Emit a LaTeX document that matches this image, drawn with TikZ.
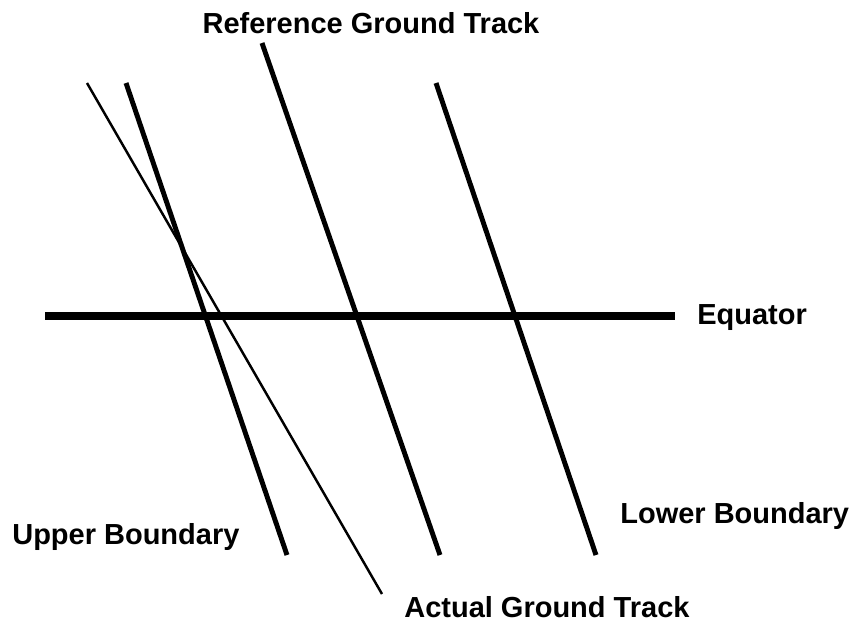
\documentclass[tikz,border=0pt]{standalone}
\usepackage{fontspec}
\setmainfont{Liberation Sans}
\usetikzlibrary{positioning}

\begin{document}
\begin{tikzpicture}[
    x=0.02cm, y=-0.02cm,
    lbl/.style={font=\bfseries\fontsize{16.5}{18}\selectfont, inner sep=0pt},
    bound/.style={line width=2.8pt},
    track/.style={line width=1.4pt},
    equ/.style={line width=4.5pt}
]
    \useasboundingbox (0,0) rectangle (859,630);

    % endpoints of the tracks
    \coordinate (ub-top) at (126,83);
    \coordinate (ub-bot) at (287,555);
    \coordinate (ref-top) at (262,43);
    \coordinate (ref-bot) at (440,555);
    \coordinate (lb-top) at (436,83);
    \coordinate (lb-bot) at (596,555);
    \coordinate (act-top) at (87,83);
    \coordinate (act-bot) at (382,594);
    \coordinate (eq-w) at (45,316);
    \coordinate (eq-e) at (675,316);

    \draw[equ] (eq-w) -- (eq-e);
    \draw[bound] (ub-top) -- (ub-bot);
    \draw[bound] (ref-top) -- (ref-bot);
    \draw[bound] (lb-top) -- (lb-bot);
    \draw[track] (act-top) -- (act-bot);

    \node[lbl] (reflabel) at (371,23) {Reference Ground Track};
    \node[lbl, anchor=west] (eqlabel) at (697,318) {Equator};
    \node[lbl, anchor=west] (lblabel) at (620,516) {Lower Boundary};
    \node[lbl, anchor=west] (ublabel) at (12,537) {Upper Boundary};
    \node[lbl, anchor=west] (actlabel) at (404,607) {Actual Ground Track};
\end{tikzpicture}
\end{document}
